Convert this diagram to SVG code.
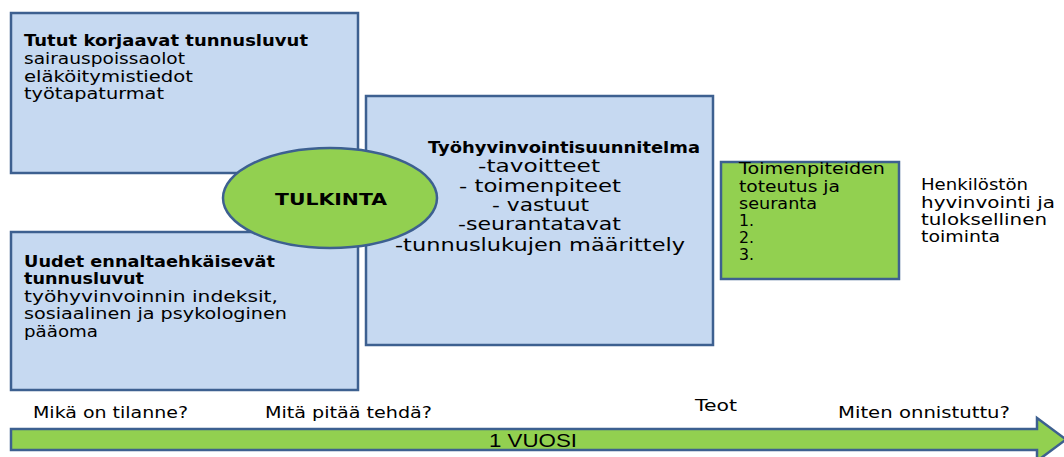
<svg xmlns="http://www.w3.org/2000/svg" width="1064" height="457" viewBox="0 0 1064 457">
<style>
.box{fill:#C6D9F1;stroke:#3D6090;stroke-width:2.5}
.green{fill:#92D050;stroke:#3D6090;stroke-width:2.5}
text{font-family:"DejaVu Sans","Liberation Sans",sans-serif;fill:#000;font-size:15.5px}
.b{font-weight:bold}
.big{font-size:18px}
.tl{font-size:15px}
</style>
<rect width="1064" height="457" fill="#fff"/>
<g id="node-known">
<rect class="box" x="11" y="13" width="347" height="160"/>
<text x="24" y="46" class="b" textLength="284" lengthAdjust="spacingAndGlyphs">Tutut korjaavat tunnusluvut</text>
<text x="24" y="64" textLength="161" lengthAdjust="spacingAndGlyphs">sairauspoissaolot</text>
<text x="24" y="82" textLength="169" lengthAdjust="spacingAndGlyphs">eläköitymistiedot</text>
<text x="24" y="99" textLength="140" lengthAdjust="spacingAndGlyphs">työtapaturmat</text>
</g>
<g id="node-new">
<rect class="box" x="11" y="232" width="347" height="158"/>
<text x="24" y="267" class="b" textLength="251" lengthAdjust="spacingAndGlyphs">Uudet ennaltaehkäisevät</text>
<text x="24" y="284" class="b" textLength="120" lengthAdjust="spacingAndGlyphs">tunnusluvut</text>
<text x="24" y="302" textLength="254" lengthAdjust="spacingAndGlyphs">työhyvinvoinnin indeksit,</text>
<text x="24" y="319" textLength="263" lengthAdjust="spacingAndGlyphs">sosiaalinen ja psykologinen</text>
<text x="24" y="337" textLength="74" lengthAdjust="spacingAndGlyphs">pääoma</text>
</g>
<g id="node-plan">
<rect class="box" x="366" y="96" width="347" height="249"/>
<text x="428" y="153" class="b" textLength="272" lengthAdjust="spacingAndGlyphs">Työhyvinvointisuunnitelma</text>
<text x="478" y="172" class="big" textLength="122" lengthAdjust="spacingAndGlyphs">-tavoitteet</text>
<text x="459" y="192" class="big" textLength="162" lengthAdjust="spacingAndGlyphs">- toimenpiteet</text>
<text x="492" y="211" class="big" textLength="97" lengthAdjust="spacingAndGlyphs">- vastuut</text>
<text x="458" y="230" class="big" textLength="163" lengthAdjust="spacingAndGlyphs">-seurantatavat</text>
<text x="395" y="251" class="big" textLength="290" lengthAdjust="spacingAndGlyphs">-tunnuslukujen määrittely</text>
</g>
<g id="node-tulkinta">
<ellipse class="green" cx="330" cy="198" rx="107" ry="50"/>
<text x="275" y="205" class="b" textLength="112" lengthAdjust="spacingAndGlyphs">TULKINTA</text>
</g>
<g id="node-toteutus">
<rect class="green" x="721" y="162" width="178" height="117"/>
<text x="739" y="174" textLength="146" lengthAdjust="spacingAndGlyphs">Toimenpiteiden</text>
<text x="739" y="192" textLength="101" lengthAdjust="spacingAndGlyphs">toteutus ja</text>
<text x="739" y="209" textLength="78" lengthAdjust="spacingAndGlyphs">seuranta</text>
<text x="739" y="226" textLength="15" lengthAdjust="spacingAndGlyphs">1.</text>
<text x="739" y="243" textLength="15" lengthAdjust="spacingAndGlyphs">2.</text>
<text x="739" y="260" textLength="15" lengthAdjust="spacingAndGlyphs">3.</text>
</g>
<g id="node-result">
<text x="921" y="190" textLength="107" lengthAdjust="spacingAndGlyphs">Henkilöstön</text>
<text x="921" y="207.5" textLength="134" lengthAdjust="spacingAndGlyphs">hyvinvointi ja</text>
<text x="921" y="225" textLength="126" lengthAdjust="spacingAndGlyphs">tuloksellinen</text>
<text x="921" y="242" textLength="79" lengthAdjust="spacingAndGlyphs">toiminta</text>
</g>
<g id="connectors">
<path class="green" d="M11,429 H1037 V418 L1066,439.5 L1037,461 V450 H11 Z"/>
<text x="489" y="447" style="font-family:'Liberation Sans',sans-serif;font-size:17.5px" textLength="88" lengthAdjust="spacingAndGlyphs">1 VUOSI</text>
</g>
<g id="labels">
<text x="33" y="418" class="tl" textLength="155" lengthAdjust="spacingAndGlyphs">Mikä on tilanne?</text>
<text x="265" y="418" class="tl" textLength="167" lengthAdjust="spacingAndGlyphs">Mitä pitää tehdä?</text>
<text x="695" y="411" class="tl" textLength="42" lengthAdjust="spacingAndGlyphs">Teot</text>
<text x="838" y="418" class="tl" textLength="172" lengthAdjust="spacingAndGlyphs">Miten onnistuttu?</text>
</g>
</svg>
